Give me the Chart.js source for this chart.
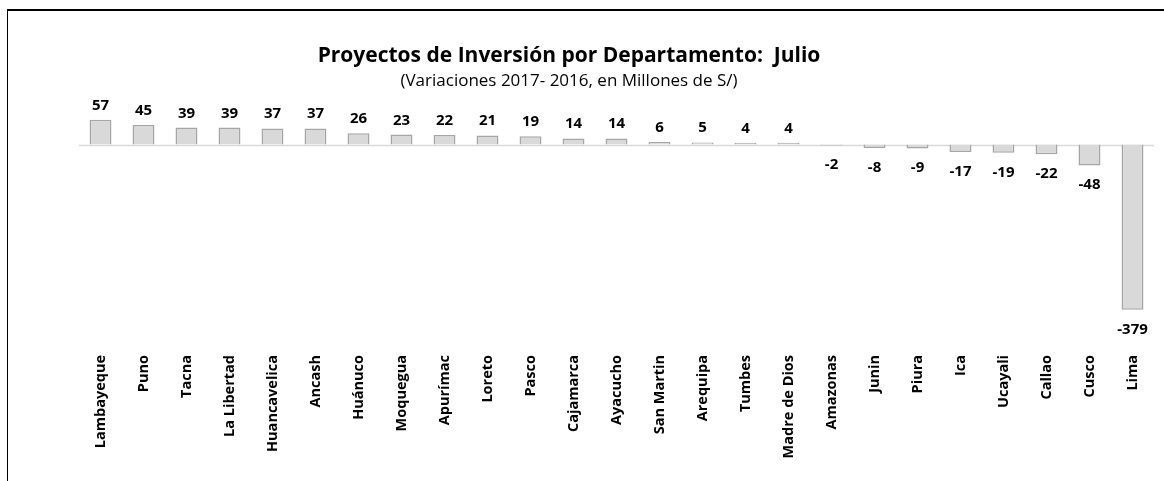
<!DOCTYPE html>
<html lang="es">
<head>
<meta charset="UTF-8">
<title>Proyectos de Inversión por Departamento</title>
<script src="https://cdn.jsdelivr.net/npm/chart.js"></script>
<style>
    html, body { margin: 0; padding: 0; background: #fff; }
    .marco {
        position: absolute;
        left: 0; top: 0;
        width: 1164px; height: 481px;
        overflow: hidden;
    }
    .borde {
        position: absolute;
        left: 7px; top: 9px;
        width: 1200px; height: 500px;
        border-top: 2px solid #000;
        border-left: 1px solid #000;
    }
    canvas { position: absolute; left: 0; top: 0; }
</style>
</head>
<body>
<div class="marco">
    <div class="borde"></div>
    <canvas id="graficoDepartamentos" width="1164" height="481"></canvas>
</div>
<script>
    // departamentos y variación 2017-2016 (millones de S/)
    const departamentos = ['Lambayeque', 'Puno', 'Tacna', 'La Libertad', 'Huancavelica', 'Ancash',
        'Huánuco', 'Moquegua', 'Apurímac', 'Loreto', 'Pasco', 'Cajamarca', 'Ayacucho', 'San Martin',
        'Arequipa', 'Tumbes', 'Madre de Dios', 'Amazonas', 'Junin', 'Piura', 'Ica', 'Ucayali',
        'Callao', 'Cusco', 'Lima'];
    const variaciones = [57, 45, 39, 39, 37, 37, 26, 23, 22, 21, 19, 14, 14, 6, 5, 4, 4,
        -2, -8, -9, -17, -19, -22, -48, -379];

    const titulo = 'Proyectos de Inversión por Departamento:  Julio';
    const subtitulo = '(Variaciones 2017- 2016, en Millones de S/)';

    const fuente = '"Open Sans", sans-serif';

    // linea del cero
    const lineaCero = {
        id: 'lineaCero',
        beforeDatasetsDraw(chart) {
            const { ctx, chartArea, scales } = chart;
            const y = Math.round(scales.y.getPixelForValue(0)) + 0.5;
            ctx.save();
            ctx.strokeStyle = '#d9d9d9';
            ctx.lineWidth = 1.5;
            ctx.beginPath();
            ctx.moveTo(chartArea.left, y);
            ctx.lineTo(chartArea.right, y);
            ctx.stroke();
            ctx.restore();
        }
    };

    // etiquetas con el valor de cada barra
    const etiquetas = {
        id: 'etiquetas',
        afterDatasetsDraw(chart) {
            const { ctx } = chart;
            const meta = chart.getDatasetMeta(0);
            ctx.save();
            ctx.font = 'bold 15px ' + fuente;
            ctx.fillStyle = '#000';
            ctx.textAlign = 'center';
            ctx.textBaseline = 'alphabetic';
            meta.data.forEach(function (barra, i) {
                const v = variaciones[i];
                const y = v >= 0 ? barra.y - 10 : barra.y + 24;
                ctx.fillText(String(v), barra.x, y);
            });
            ctx.restore();
        }
    };

    // titulo y subtitulo
    const encabezado = {
        id: 'encabezado',
        afterDraw(chart) {
            const { ctx } = chart;
            ctx.save();
            ctx.fillStyle = '#000';
            ctx.textAlign = 'center';
            ctx.textBaseline = 'alphabetic';
            ctx.font = 'bold 21px ' + fuente;
            ctx.fillText(titulo, 569, 62);
            ctx.font = '17px ' + fuente;
            ctx.fillText(subtitulo, 569, 86);
            ctx.restore();
        }
    };

    const ctx = document.getElementById('graficoDepartamentos').getContext('2d');
    new Chart(ctx, {
        type: 'bar',
        data: {
            labels: departamentos,
            datasets: [{
                data: variaciones,
                backgroundColor: '#d9d9d9',
                borderColor: '#a6a6a6',
                borderWidth: 1.5,
                categoryPercentage: 1,
                barPercentage: 0.51
            }]
        },
        options: {
            responsive: false,
            animation: false,
            layout: { padding: { top: 101, left: 79, right: 10, bottom: 0 } },
            plugins: {
                legend: { display: false },
                tooltip: { enabled: false }
            },
            scales: {
                x: {
                    grid: { display: false },
                    border: { display: false },
                    ticks: {
                        autoSkip: false,
                        maxRotation: 90,
                        minRotation: 90,
                        padding: 2,
                        color: '#000',
                        font: { family: fuente, size: 14.5, weight: 'bold' }
                    },
                    afterFit(scale) { scale.height = 136; }
                },
                y: {
                    display: false,
                    min: -460,
                    max: 100
                }
            }
        },
        plugins: [lineaCero, etiquetas, encabezado]
    });
</script>
</body>
</html>
